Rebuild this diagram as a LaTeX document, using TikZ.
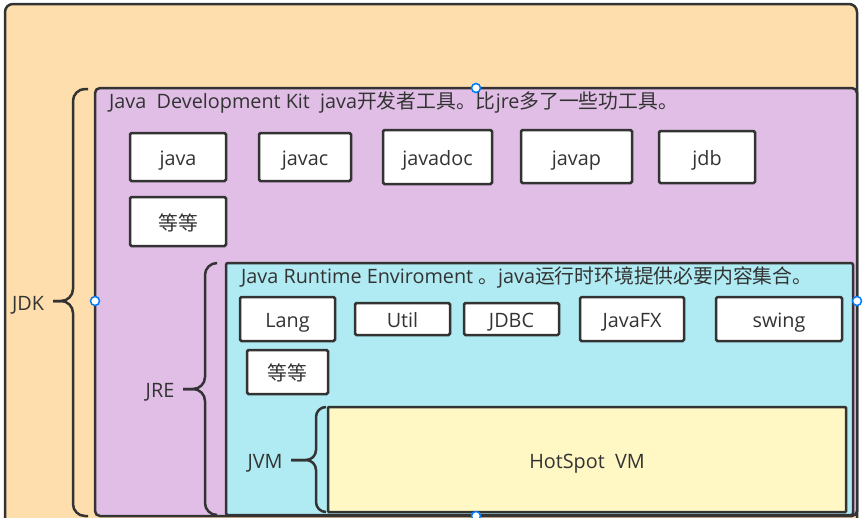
\documentclass[tikz,border=0pt]{standalone}
\usepackage{fontspec}
\setmainfont{Open Sans}
\newfontfamily\cjk{Noto Sans CJK SC}
\newcommand{\zh}[1]{{\cjk\fontsize{19.8}{23}\selectfont #1}}
\begin{document}
\begin{tikzpicture}[x=1pt,y=-1pt,
  line/.style={draw=black!80,line width=2.5pt},
  txt/.style={text=black!80,font=\fontsize{19.8}{23}\selectfont,text height=17pt,text depth=0pt},
  tool/.style={line,txt,fill=white,rounded corners=1.5pt,inner sep=0pt},
  lbl/.style={txt,inner sep=0pt},
  brc/.style={draw=black!80,line width=2.5pt,rounded corners=12pt},
  handle/.style={circle,draw={rgb,255:red,0;green,122;blue,255},fill=white,line width=1.5pt,minimum size=9pt,inner sep=0pt}]
\definecolor{orangebg}{RGB}{255,222,173}
\definecolor{purplebg}{RGB}{224,190,230}
\definecolor{bluebg}{RGB}{176,234,242}
\definecolor{yellowbg}{RGB}{255,248,196}
\useasboundingbox[fill=white] (0,0) rectangle (866,517);
% outer box
\filldraw[line,fill=orangebg,rounded corners=8pt] (5,4) rectangle (857,530);
% JDK purple box
\filldraw[line,fill=purplebg,rounded corners=5pt] (95,88) rectangle (857,516);
\node[lbl,anchor=base west] (jdktitle) at (109,108) {Java\ \ Development Kit\ \ java\zh{开发者工具。比}jre\zh{多了一些功工具。}};
% JRE blue box
\filldraw[line,fill=bluebg,rounded corners=2pt] (226,263) rectangle (853,515);
\node[lbl,anchor=base west] (jretitle) at (241,283) {Java Runtime Enviroment \zh{。}java\zh{运行时环境提供必要内容集合。}};
% JVM yellow box
\node[line,txt,fill=yellowbg,rounded corners=1pt,minimum width=518pt,minimum height=105pt] (hotspot) at (587,459.5) {HotSpot\ \ VM};
% JDK tools
\node[tool,minimum width=96pt,minimum height=48pt] (java) at (178,157) {java};
\node[tool,minimum width=92pt,minimum height=48pt] (javac) at (305,157) {javac};
\node[tool,minimum width=109pt,minimum height=54pt] (javadoc) at (437.5,157) {javadoc};
\node[tool,minimum width=111pt,minimum height=53pt] (javap) at (576.5,156.5) {javap};
\node[tool,minimum width=96pt,minimum height=52pt] (jdb) at (707,157) {jdb};
\node[tool,minimum width=96pt,minimum height=49pt] (etc1) at (178,221.5) {\zh{等等}};
% JRE libs
\node[tool,minimum width=95pt,minimum height=44pt] (lang) at (287.5,319) {Lang};
\node[tool,minimum width=95pt,minimum height=32pt] (util) at (402.5,319) {Util};
\node[tool,minimum width=95pt,minimum height=32pt] (jdbc) at (511.5,319) {JDBC};
\node[tool,minimum width=104pt,minimum height=44pt] (javafx) at (632,319) {JavaFX};
\node[tool,minimum width=126pt,minimum height=44pt] (swing) at (779,319) {swing};
\node[tool,minimum width=81pt,minimum height=44pt] (etc2) at (287.5,372) {\zh{等等}};
% braces
\draw[brc] (88,89) -- (73,89) -- (73,301) -- (53,301);
\draw[brc] (88,516) -- (73,516) -- (73,301) -- (53,301);
\node[lbl] (jdk) at (28,302) {JDK};
\draw[brc] (216,263) -- (205,263) -- (205,389) -- (183,389);
\draw[brc] (216,515) -- (205,515) -- (205,389) -- (183,389);
\node[lbl] (jre) at (160,389) {JRE};
\draw[brc,rounded corners=10pt] (326,407) -- (316,407) -- (316,460) -- (291,460);
\draw[brc,rounded corners=10pt] (326,512) -- (316,512) -- (316,460) -- (291,460);
\node[lbl] (jvm) at (265,460) {JVM};
% selection handles
\node[handle] (h1) at (476,88) {};
\node[handle] (h2) at (95,301) {};
\node[handle] (h3) at (857,301) {};
\node[handle] (h4) at (476,516) {};
\end{tikzpicture}
\end{document}
